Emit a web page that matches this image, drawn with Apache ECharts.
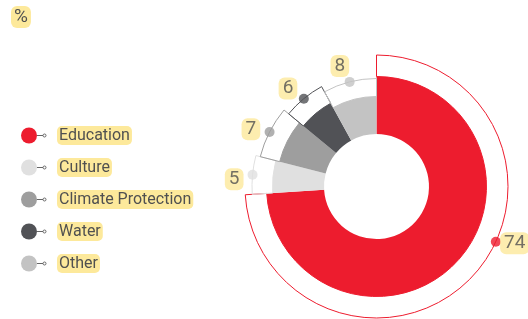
<!DOCTYPE html>
<html>
<head>
<meta charset="utf-8">
<script src="https://cdn.jsdelivr.net/npm/echarts@6/dist/echarts.min.js"></script>
<style>
  html, body { margin: 0; padding: 0; background: #fff; }
  #main { width: 528px; height: 319px; }
</style>
</head>
<body>
<div id="main"></div>
<script>
// data
var categories = ['Education', 'Culture', 'Climate Protection', 'Water', 'Other'];
var shares = [74, 5, 7, 6, 8];
var colors = ['#ED1C2E', '#E0E0E0', '#9E9E9E', '#515256', '#C3C3C3'];

// layout (px)
var CX = 376.5, CY = 186.5, HOLE = 52.5;
var fillR = [110, 104, 100, 95, 90];
var bracketR = [131.5, 124.5, 120, 114, 108];
var eduDotAt = 31.9; // dot for the big slice is pulled up so the label fits
var YELLOW = '#FDE99B', TEXT = '#505050';

var total = shares.reduce(function (a, b) { return a + b; }, 0);
var dotAt = [];
var acc = 0;
shares.forEach(function (v) { dotAt.push(acc + v / 2); acc += v; });
dotAt[0] = eduDotAt;

var clear = 'rgba(0,0,0,0)';
var series = [];

// fills, one ring per slice
categories.forEach(function (name, i) {
  series.push({
    type: 'pie',
    center: [CX, CY],
    radius: [HOLE, fillR[i]],
    silent: true,
    label: { show: false },
    labelLine: { show: false },
    emphasis: { disabled: true },
    data: categories.map(function (n, j) {
      return { name: n, value: shares[j],
        itemStyle: { color: j === i ? colors[j] : clear, borderWidth: 0 } };
    })
  });
});

// thin outline brackets
categories.forEach(function (name, i) {
  series.push({
    type: 'pie',
    center: [CX, CY],
    radius: [fillR[i], bracketR[i]],
    silent: true,
    label: { show: false },
    labelLine: { show: false },
    emphasis: { disabled: true },
    data: categories.map(function (n, j) {
      return { name: n, value: shares[j],
        itemStyle: j === i
          ? { color: clear, borderColor: colors[j], borderWidth: 1 }
          : { color: clear, borderWidth: 0 } };
    })
  });
});

// dots on the brackets
series.push({
  type: 'scatter',
  coordinateSystem: 'polar',
  symbolSize: 10,
  silent: true,
  data: categories.map(function (n, i) {
    return { value: [bracketR[i], dotAt[i]], itemStyle: { color: colors[i] } };
  })
});

// value labels
series.push({
  type: 'scatter',
  coordinateSystem: 'polar',
  symbolSize: 0,
  silent: true,
  data: categories.map(function (n, i) {
    return {
      value: [bracketR[i] + 18, dotAt[i] - 0.7],
      label: {
        show: true, position: 'inside', formatter: String(shares[i]),
        fontFamily: 'Roboto', fontSize: 19, color: TEXT,
        backgroundColor: YELLOW, borderRadius: 6, padding: [2, 4, 1, 4]
      }
    };
  })
});

var myChart = echarts.init(document.getElementById('main'));
var option = {
  animation: false,
  title: {
    text: '%', left: 11, top: 6,
    backgroundColor: YELLOW, borderRadius: 6, padding: [2, 3, 1, 3],
    textStyle: { fontFamily: 'Roboto', fontSize: 19, fontWeight: 'normal', color: TEXT }
  },
  polar: { center: [CX, CY], radius: 170 },
  angleAxis: { type: 'value', min: 0, max: total, startAngle: 90, show: false },
  radiusAxis: { type: 'value', min: 0, max: 170, show: false },
  legend: {
    orient: 'vertical', left: 16, top: 121,
    itemWidth: 16, itemHeight: 16, itemGap: 13,
    icon: 'circle', selectedMode: false,
    data: categories.map(function (n, i) {
      return { name: n, itemStyle: { color: colors[i] } };
    }),
    formatter: function (n) { return '{ln|}{ring|}{gap|}{n|' + n + '}'; },
    textStyle: {
      padding: [0, 0, 0, -5],
      rich: {
        ln: { width: 6, height: 1, backgroundColor: '#666' },
        ring: { width: 3, height: 3, borderRadius: 3, borderWidth: 1, borderColor: '#666' },
        gap: { width: 11 },
        n: {
          fontFamily: 'Roboto', fontSize: 16, color: TEXT,
          backgroundColor: YELLOW, borderRadius: 5, padding: [2, 2, 1, 2]
        }
      }
    }
  },
  series: series
};
myChart.setOption(option);
</script>
</body>
</html>
